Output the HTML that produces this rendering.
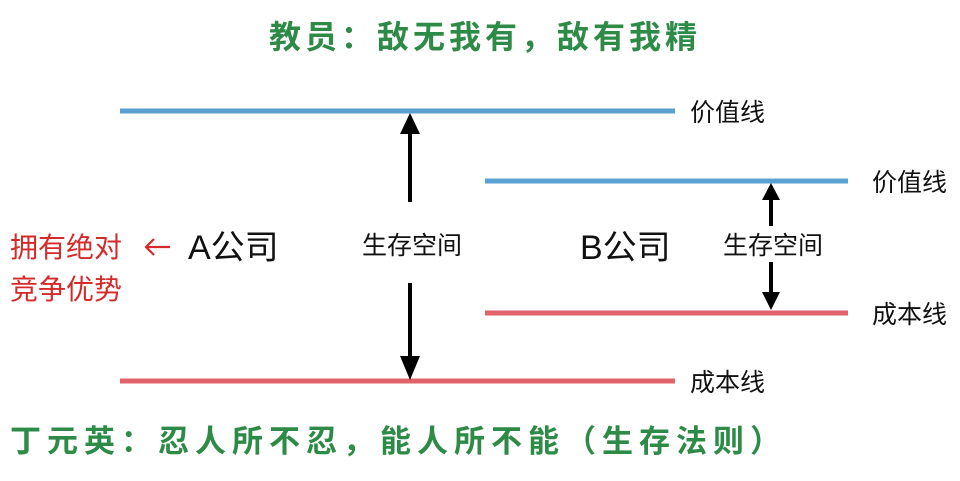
<!DOCTYPE html>
<html><head><meta charset="utf-8"><style>
body{margin:0;background:#fff;width:960px;height:476px;overflow:hidden}
text{font-family:"Liberation Sans","Noto Sans CJK SC",sans-serif}
</style></head><body>
<svg width="960" height="476" xmlns="http://www.w3.org/2000/svg">
<text x="485" y="48" font-size="32" fill="#2e8b47" text-anchor="middle" font-weight="bold" letter-spacing="4">教员：敌无我有，敌有我精</text>
<line x1="120" y1="111" x2="675" y2="111" stroke="#5aa0d0" stroke-width="5"/>
<line x1="485" y1="181" x2="848" y2="181" stroke="#5aa0d0" stroke-width="5"/>
<line x1="485" y1="313" x2="848" y2="313" stroke="#e0636b" stroke-width="5"/>
<line x1="120" y1="381" x2="675" y2="381" stroke="#e0636b" stroke-width="5"/>
<g font-size="25" fill="#111">
<text x="690" y="121">价值线</text>
<text x="872" y="191">价值线</text>
<text x="872" y="323">成本线</text>
<text x="690" y="391">成本线</text>
<text x="412" y="254" text-anchor="middle">生存空间</text>
<text x="773" y="254" text-anchor="middle">生存空间</text>
</g>
<g stroke="#000" stroke-width="4">
<line x1="410" y1="130" x2="410" y2="202"/>
<line x1="410" y1="283" x2="410" y2="360"/>
<line x1="771" y1="198" x2="771" y2="226"/>
<line x1="771" y1="262" x2="771" y2="295"/>
</g>
<g fill="#000">
<polygon points="410,113 400,134 420,134"/>
<polygon points="410,380 400,356 420,356"/>
<polygon points="771,183 762,200 780,200"/>
<polygon points="771,310 762,292 780,292"/>
</g>
<text x="188" y="259" font-size="34" fill="#111">A公司</text>
<text x="580" y="259" font-size="34" fill="#111">B公司</text>
<text x="10" y="257" font-size="28" fill="#d42a2a">拥有绝对</text>
<path d="M146,247 H170 M154,239 L146,247 L154,255" stroke="#d42a2a" stroke-width="2.2" fill="none"/>
<text x="10" y="299" font-size="28" fill="#d42a2a">竞争优势</text>
<text x="10" y="452" font-size="31" fill="#2e8b47" font-weight="bold" letter-spacing="6">丁元英：忍人所不忍，能人所不能（生存法则）</text>
</svg>
</body></html>
